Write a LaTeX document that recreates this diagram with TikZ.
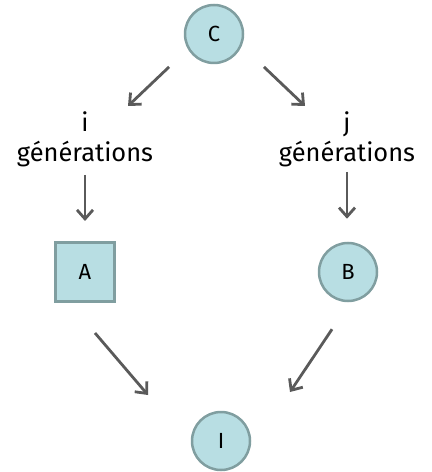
\documentclass[tikz,border=0pt]{standalone}
\usepackage{fontspec}
\setmainfont{Fira Sans}
\usetikzlibrary{arrows.meta,calc}
\definecolor{nodefill}{RGB}{184,222,227}
\definecolor{nodeline}{RGB}{128,158,160}
\definecolor{arrowgray}{RGB}{90,90,90}
\begin{document}
\begin{tikzpicture}[x=1bp,y=-1bp,
  state/.style={circle,draw=nodeline,fill=nodefill,line width=2.5bp,
    minimum size=58bp,inner sep=0pt,font=\fontsize{22}{22}\selectfont},
  sqstate/.style={rectangle,draw=nodeline,fill=nodefill,line width=3bp,
    minimum size=59bp,inner sep=0pt,font=\fontsize{22}{22}\selectfont},
  gen/.style={align=center,inner sep=0pt,font=\fontsize{25.5}{30}\selectfont},
  arr/.style={draw=arrowgray,line width=2.8bp,
    -{Straight Barb[length=9bp,width=16bp]}}]
\useasboundingbox (0,0) rectangle (431,472);
% states
\node[state]   (C) at (214,34)  {C};
\node[sqstate] (A) at (85,272)  {A};
\node[state]   (B) at (348,272) {B};
\node[state]   (I) at (221,441) {I};
% generation labels
\node[gen] (gi) at (85,139)  {i\\générations};
\node[gen] (gj) at (347,139) {j\\générations};
% descent arrows
\draw[arr] ($(C.south west)+(-23.5,11.5)$) -- ($(gi)+(43,-33)$);
\draw[arr] ($(C.south east)+(28.5,11.5)$) -- ($(gj)+(-42,-33)$);
\draw[arr] ($(gi)+(0,36)$) -- ($(A.north)+(0,-20)$);
\draw[arr] ($(gj)+(0,33)$) -- ($(B.north)+(-1,-23)$);
\draw[arr] ($(A.south)+(10,30)$) -- ($(I)+(-73,-46)$);
\draw[arr] ($(B.south)+(-16,27)$) -- ($(I)+(69,-49)$);
\end{tikzpicture}
\end{document}
